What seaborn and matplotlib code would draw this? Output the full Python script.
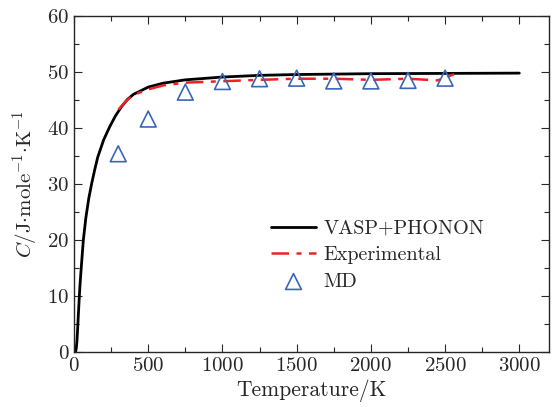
import numpy as np
import pandas as pd
import matplotlib
matplotlib.use("Agg")
import matplotlib.pyplot as plt
import seaborn as sns
from matplotlib.ticker import MultipleLocator

# VASP+PHONON calculated heat capacity
vasp_T = [0, 10, 15, 20, 25, 30, 35, 40, 50, 63, 80, 100, 120, 140, 160, 200, 240, 280,
          320, 360, 400, 500, 600, 750, 1000, 1250, 1500, 2000, 2500, 3000]
vasp_C = [0, 0.0, 0.6, 2.0, 4.4, 7.0, 9.5, 11.8, 15.5, 20.0, 24.0, 27.5, 30.2, 32.6, 34.8,
          37.9, 40.2, 42.2, 43.8, 45.1, 46.0, 47.3, 48.0, 48.6, 49.1, 49.4, 49.55, 49.7,
          49.75, 49.8]

# Experimental data
exp_T = [300, 350, 400, 500, 600, 750, 1000, 1250, 1500, 1750, 2000, 2250, 2450, 2560]
exp_C = [43.3, 44.8, 45.9, 46.9, 47.6, 48.1, 48.35, 48.6, 48.8, 48.8, 48.6, 48.8, 48.5, 49.6]

# MD simulation
md_T = [298, 500, 750, 1000, 1250, 1500, 1750, 2000, 2250, 2500]
md_C = [35.4, 41.6, 46.4, 48.3, 48.8, 48.9, 48.4, 48.4, 48.5, 48.9]

sns.set_style("ticks")
plt.rcParams.update({
    "font.family": "serif",
    "font.serif": ["cmr10", "DejaVu Serif"],
    "mathtext.fontset": "cm",
    "axes.formatter.use_mathtext": True,
    "axes.unicode_minus": False,
    "font.size": 15,
})

fig = plt.figure(figsize=(5.57, 4.07), dpi=100)
ax = fig.add_axes([74 / 557, 1 - 352 / 407, (549 - 74) / 557, (352 - 16) / 407])

sns.lineplot(x=vasp_T, y=vasp_C, ax=ax, color="black", lw=2.0, label="VASP+PHONON",
             sort=False)
sns.lineplot(x=exp_T, y=exp_C, ax=ax, color="#ee2222", lw=1.8, label="Experimental",
             sort=False)
ax.lines[-1].set_dashes([7, 3, 2, 3])
sns.scatterplot(x=md_T, y=md_C, ax=ax, marker="^", s=130, facecolors="none",
                edgecolor="#3a66b8", linewidth=1.2, label="MD", zorder=5)

ax.set_xlim(0, 3200)
ax.set_ylim(0, 60)
ax.xaxis.set_major_locator(MultipleLocator(500))
ax.xaxis.set_minor_locator(MultipleLocator(250))
ax.yaxis.set_major_locator(MultipleLocator(10))
ax.yaxis.set_minor_locator(MultipleLocator(5))
ax.tick_params(which="both", direction="in", top=True, right=True, labelsize=15,
               width=0.8)
ax.tick_params(which="major", length=6)
ax.tick_params(which="minor", length=3.5)
for s in ax.spines.values():
    s.set_linewidth(1.0)

ax.set_xlabel("Temperature/K", fontsize=15.5, labelpad=3)
ax.set_ylabel(r"$C/\mathrm{J{\cdot}mole^{-1}{\cdot}K^{-1}}$", fontsize=15, labelpad=5)

leg = ax.legend(loc="upper left", bbox_to_anchor=(0.39, 0.43), frameon=False,
                fontsize=14.5, handlelength=2.2, handletextpad=0.4, labelspacing=0.42,
                borderaxespad=0.2)

fig.savefig("out.png", dpi=100)
